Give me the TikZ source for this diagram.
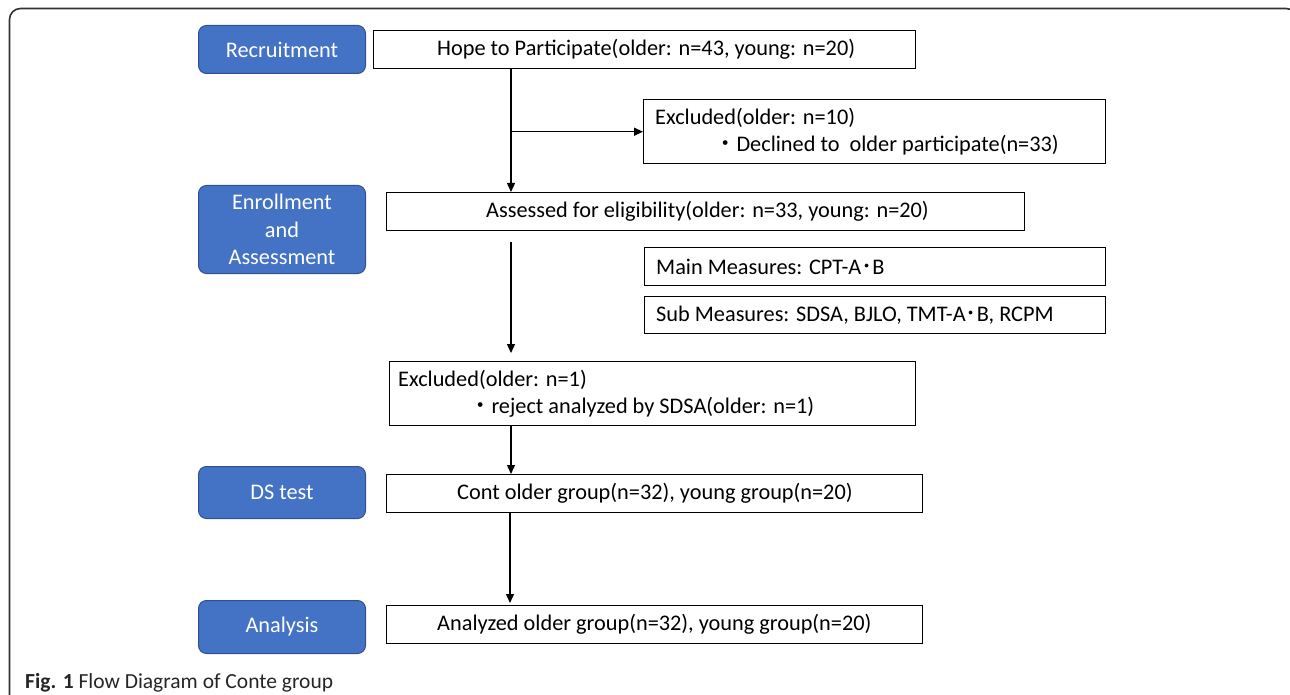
\documentclass[tikz,border=0pt]{standalone}
\usepackage{fontspec}
\setmainfont{Carlito}
\newfontfamily\cjk{Noto Sans CJK JP}
\usetikzlibrary{arrows.meta}
\definecolor{blueFill}{HTML}{4472C4}
\definecolor{blueEdge}{HTML}{2F528F}
\definecolor{frameCol}{HTML}{333333}
\newcommand{\bodyfont}{\fontsize{22.3}{27.5}\selectfont}
\begin{document}
\begin{tikzpicture}[x=1pt,y=-1pt,
  stage/.style={draw=blueEdge, line width=1pt, fill=blueFill, rounded corners=8pt,
    text=white, minimum width=167pt, align=center, inner sep=0pt, anchor=north west, font=\bodyfont},
  box/.style={draw=black, line width=1.4pt, anchor=north west, inner sep=0pt},
  txt/.style={anchor=west, inner sep=0pt, align=left, font=\bodyfont},
  arr/.style={-{Triangle[length=9pt,width=8pt]}, line width=1.3pt}]
\useasboundingbox (0,0) rectangle (1290,695);
% outer frame
\draw[frameCol, line width=1.6pt, rounded corners=11pt] (9.5,720) -- (9.5,8.5) -- (1297,8.5) -- (1297,720);

% stage labels
\node[stage, minimum height=48pt] (recruit) at (198,25) {Recruitment};
\node[stage, minimum height=88pt] (enroll) at (198,185) {Enrollment\\and\\Assessment};
\node[stage, minimum height=52pt] (dstest) at (198,466) {DS test};
\node[stage, minimum height=53pt] (analysis) at (198,600) {Analysis};

% boxes
\node[box, minimum width=542pt, minimum height=38pt] (hope) at (373,30) {};
\node[txt] (hopeT) at ([xshift=64pt]hope.west) {Hope to Participate(older: n=43, young: n=20)};

\node[box, minimum width=462pt, minimum height=64pt] (excl1) at (643,99) {};
\node[txt] (excl1T) at ([xshift=12pt]excl1.west) {Excluded(older: n=10)\\\hspace*{59pt}{\cjk ・}Declined to\ \ older participate(n=33)};

\node[box, minimum width=638pt, minimum height=38pt] (assess) at (386,192) {};
\node[txt] (assessT) at ([xshift=100pt]assess.west) {Assessed for eligibility(older: n=33, young: n=20)};

\node[box, minimum width=461pt, minimum height=38pt] (main) at (644,247) {};
\node[txt] (mainT) at ([xshift=12pt]main.west) {Main Measures: CPT-A{\cjk ･}B};

\node[box, minimum width=461pt, minimum height=37pt] (sub) at (644,296) {};
\node[txt] (subT) at ([xshift=12pt]sub.west) {Sub Measures: SDSA, BJLO, TMT-A{\cjk ･}B, RCPM};

\node[box, minimum width=526pt, minimum height=64pt] (excl2) at (389,361) {};
\node[txt] (excl2T) at ([xshift=9pt]excl2.west) {Excluded(older: n=1)\\\hspace*{71pt}{\cjk ・}reject analyzed by SDSA(older: n=1)};

\node[box, minimum width=536pt, minimum height=38pt] (cont) at (386,474) {};
\node[txt] (contT) at ([xshift=71pt]cont.west) {Cont older group(n=32), young group(n=20)};

\node[box, minimum width=536pt, minimum height=38pt] (analyzed) at (386,605) {};
\node[txt] (analyzedT) at ([xshift=51pt]analyzed.west) {Analyzed older group(n=32), young group(n=20)};

% connectors
\coordinate (col) at (511,0);
\coordinate (col2) at (510,0);
\draw[arr] (hope.south -| col) -- (assess.north -| col);
\draw[arr] (col |- excl1.west) -- (excl1.west);
\draw[arr, shorten <=11pt, shorten >=8pt] (assess.south -| col) -- (excl2.north -| col);
\draw[arr] (excl2.south -| col) -- (cont.north -| col);
\draw[arr, shorten >=2pt] (cont.south -| col2) -- (analyzed.north -| col2);

% caption
\node[anchor=base west, inner sep=0pt, font=\fontsize{21.5}{24}\selectfont, text=black!85] (caption) at (25,688) {\textbf{Fig. 1} Flow Diagram of Conte group};
\end{tikzpicture}
\end{document}
